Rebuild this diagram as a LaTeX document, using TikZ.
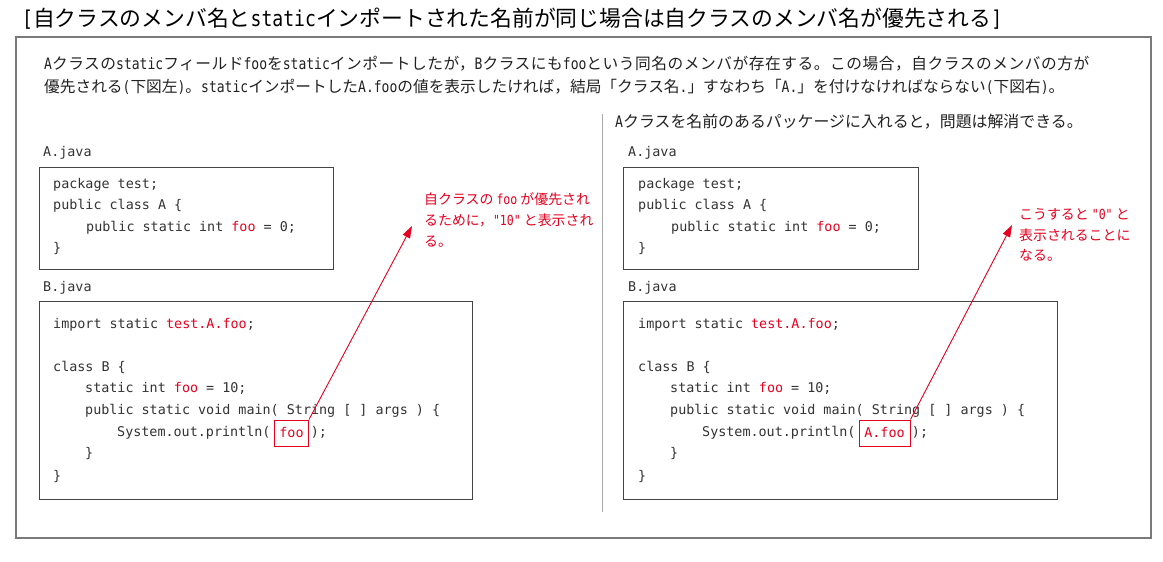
\documentclass[tikz,border=0pt]{standalone}
\usepackage{fontspec}
\usetikzlibrary{arrows.meta}
\newfontfamily\jp{Noto Sans CJK JP}
\newfontfamily\jpls{Noto Sans CJK JP}[LetterSpace=3.5]
\newfontfamily\cm{DejaVu Sans Mono}
\newfontfamily\hw{DejaVu Sans Mono}[FakeStretch=0.83]
\definecolor{jred}{HTML}{E60020}
\definecolor{codec}{HTML}{333333}
\definecolor{framec}{HTML}{7A7A7A}
\definecolor{boxc}{HTML}{444444}
\definecolor{divc}{HTML}{A8A8A8}
\definecolor{txtc}{HTML}{222222}
\tikzset{
  titletext/.style={font=\jp\fontsize{21.8}{26}\selectfont, text=black, anchor=base west, inner sep=0},
  paratext/.style={font=\jp\fontsize{15.7}{20}\selectfont, text=txtc, anchor=base west, inner sep=0},
  headtext/.style={font=\jp\fontsize{15.9}{20}\selectfont, text=txtc, anchor=base west, inner sep=0},
  notetext/.style={font=\jp\fontsize{13.9}{21}\selectfont, text=jred, anchor=base west, inner sep=0},
  code/.style={font=\cm\fontsize{13.4}{16}\selectfont\frenchspacing, text=codec, anchor=base west, inner sep=0},
  codebox/.style={draw=boxc, line width=1.2pt, anchor=north west, inner sep=0},
  hlbox/.style={draw=jred, line width=1pt, inner sep=0, minimum height=26pt, font=\cm\fontsize{13.4}{16}\selectfont, text=jred},
  outerframe/.style={draw=framec, line width=1.5pt},
  divider/.style={draw=divc, line width=1pt},
  arr/.style={draw=jred, line width=0.9pt, -{Triangle[length=12pt,width=8pt]}}
}
\newcommand{\rd}[1]{\textcolor{jred}{#1}}
\begin{document}
\begin{tikzpicture}[x=1pt,y=-1pt]
\useasboundingbox (0,0) rectangle (1163,562);
\fill[white] (0,0) rectangle (1163,562);

% title
\node[titletext] (title) at (22,26) {{\hw [}自クラスのメンバ名と{\hw static}インポートされた名前が同じ場合は自クラスのメンバ名が優先される{\hw ]}};

% outer frame
\node[outerframe, anchor=north west, minimum width=1135pt, minimum height=501pt, inner sep=0] (frame) at (15,36) {};

% paragraph
\node[paratext] (para1) at (44,69) {{\hw A}{\jpls クラスの}{\hw static}{\jpls フィールド}{\hw foo}{\jpls を}{\hw static}{\jpls インポートしたが，}{\hw B}{\jpls クラスにも}{\hw foo}{\jpls という同名のメンバが存在する。この場合，自クラスのメンバの方が}};
\node[paratext] (para2) at (44,92) {優先される{\hw (}下図左{\hw )}。{\hw static}インポートした{\hw A.foo}の値を表示したければ，結局「クラス名{\hw .}」すなわち「{\hw A.}」を付けなければならない{\hw (}下図右{\hw )}。};
\node[headtext] (head) at (615,127) {{\hw A}クラスを名前のあるパッケージに入れると，問題は解消できる。};

% divider
\coordinate (divtop) at (602,114);
\coordinate (divbot) at (602,512);
\draw[divider] (divtop) -- (divbot);

% ---------- left ----------
\node[code] (ajL) at (43,156.5) {A.java};
\node[codebox, minimum width=294pt, minimum height=102pt] (boxAL) at (39,167) {};
\node[code] (a1L) at (53,188.5) {package test;};
\node[code] (a2L) at (53,209.5) {public class A \{};
\node[code] (a3L) at (86,231.5) {public static int \rd{foo} = 0;};
\node[code] (a4L) at (53,252.5) {\}};

\node[code] (bjL) at (43,291.5) {B.java};
\node[codebox, minimum width=433pt, minimum height=198pt] (boxBL) at (39,301) {};
\node[code] (b1L) at (53,328.5) {import static \rd{test.A.foo};};
\node[code] (b2L) at (53,371.5) {class B \{};
\node[code] (b3L) at (85,392.5) {static int \rd{foo} = 10;};
\node[code] (b4L) at (85,414.5) {public static void main( String [ ] args ) \{};
\node[code] (b5L) at (117,436.5) {System.out.println( \phantom{foo} );};
\node[code] (b6L) at (85,457.5) {\}};
\node[code] (b7L) at (53,480.5) {\}};
\node[hlbox, minimum width=34pt] (fooL) at (291.5,433) {foo};

\node[notetext] (n1L) at (424,204) {自クラスの {\hw foo} が優先され};
\node[notetext] (n2L) at (424,225) {るために，{\hw "10"} と表示され};
\node[notetext] (n3L) at (424,246) {る。};
\coordinate (tipL) at (412,226);
\draw[arr] (fooL.north east) -- (tipL);

% ---------- right ----------
\node[code] (ajR) at (628,156.5) {A.java};
\node[codebox, minimum width=295pt, minimum height=102pt] (boxAR) at (623,167) {};
\node[code] (a1R) at (638,188.5) {package test;};
\node[code] (a2R) at (638,209.5) {public class A \{};
\node[code] (a3R) at (671,231.5) {public static int \rd{foo} = 0;};
\node[code] (a4R) at (638,252.5) {\}};

\node[code] (bjR) at (628,291.5) {B.java};
\node[codebox, minimum width=434pt, minimum height=198pt] (boxBR) at (623,301) {};
\node[code] (b1R) at (638,328.5) {import static \rd{test.A.foo};};
\node[code] (b2R) at (638,371.5) {class B \{};
\node[code] (b3R) at (670,392.5) {static int \rd{foo} = 10;};
\node[code] (b4R) at (670,414.5) {public static void main( String [ ] args ) \{};
\node[code] (b5R) at (702,436.5) {System.out.println( \phantom{A.foo} );};
\node[code] (b6R) at (670,457.5) {\}};
\node[code] (b7R) at (638,480.5) {\}};
\node[hlbox, minimum width=51pt] (fooR) at (884.5,433) {A.foo};

\node[notetext] (n1R) at (1019,219) {こうすると {\hw "0"} と};
\node[notetext] (n2R) at (1019,240) {表示されることに};
\node[notetext] (n3R) at (1019,260) {なる。};
\coordinate (tipR) at (1012,225);
\draw[arr] (fooR.north east) -- (tipR);
\end{tikzpicture}
\end{document}
